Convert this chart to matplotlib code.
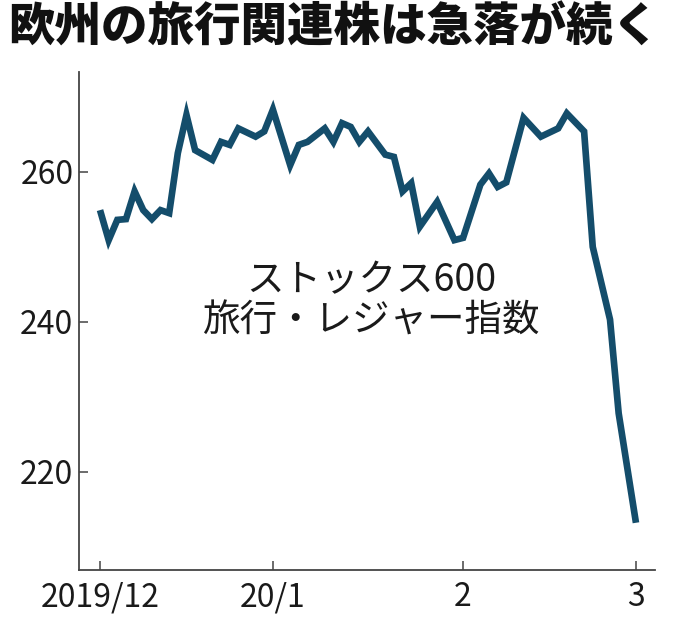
import matplotlib
matplotlib.use('Agg')
import matplotlib.pyplot as plt

# ストックス600 旅行・レジャー指数 (営業日インデックス, 0 = 2019/12/2)
day = [0, 1, 2, 3, 4, 5, 6, 7, 8, 9, 10, 11, 13, 14, 15, 16, 18, 19, 20,
       22, 23, 24, 26, 27, 28, 29, 30, 31, 33, 34, 35, 36, 37, 39, 41, 42,
       44, 45, 46, 47, 49, 51, 53, 54, 56, 57, 59, 60, 62]
index_value = [254.9, 250.9, 253.6, 253.7, 257.4, 254.9, 253.7, 254.9, 254.5,
               262.5, 267.6, 262.9, 261.6, 264.0, 263.6, 265.8, 264.7, 265.4,
               268.3, 260.9, 263.6, 264.0, 265.8, 264.0, 266.5, 266.0, 264.0,
               265.4, 262.3, 262.0, 257.4, 258.5, 252.7, 256.0, 250.9, 251.2,
               258.3, 259.8, 258.0, 258.6, 267.2, 264.7, 265.8, 267.8, 265.4,
               250.0, 240.3, 227.8, 213.2]

month_pos = [0, 20, 42, 62]
month_labels = ['2019/12', '20/1', '2', '3']
y_ticks = [220, 240, 260]

jp = ['Noto Sans CJK JP', 'DejaVu Sans']
num = ['Liberation Sans Narrow', 'Noto Sans CJK JP', 'DejaVu Sans']

fig = plt.figure(figsize=(6.8, 6.33), dpi=100)
ax = fig.add_axes([0.1162, 0.0995, 0.847, 0.7865])

ax.plot(day, index_value, color='#144d6b', linewidth=4.8,
        solid_joinstyle='miter', solid_capstyle='butt')

ax.set_xlim(-2.43, 64.2)
ax.set_ylim(206.9, 273.3)

ax.spines['top'].set_visible(False)
ax.spines['right'].set_visible(False)
for s in ['left', 'bottom']:
    ax.spines[s].set_color('#444444')
    ax.spines[s].set_linewidth(1.3)

ax.set_xticks(month_pos)
ax.set_xticklabels(month_labels)
ax.set_yticks(y_ticks)
ax.tick_params(axis='both', direction='in', length=6.5, width=1.1,
               color='#444444', labelsize=23, labelcolor='#1a1a1a')
ax.tick_params(axis='x', pad=8)
ax.tick_params(axis='y', pad=4)
for lab in ax.get_xticklabels() + ax.get_yticklabels():
    lab.set_family(num)

ax.text(0.507, 0.54, 'ストックス600\n旅行・レジャー指数', transform=ax.transAxes,
        ha='center', va='center', fontsize=27, family=jp, color='#1a1a1a',
        linespacing=1.05)

fig.text(0.012, 0.992, '欧州の旅行関連株は急落が続く', ha='left', va='top',
         fontsize=33.5, fontweight='black', family=jp, color='#111111')

fig.savefig('out.png', dpi=100, facecolor='white')
